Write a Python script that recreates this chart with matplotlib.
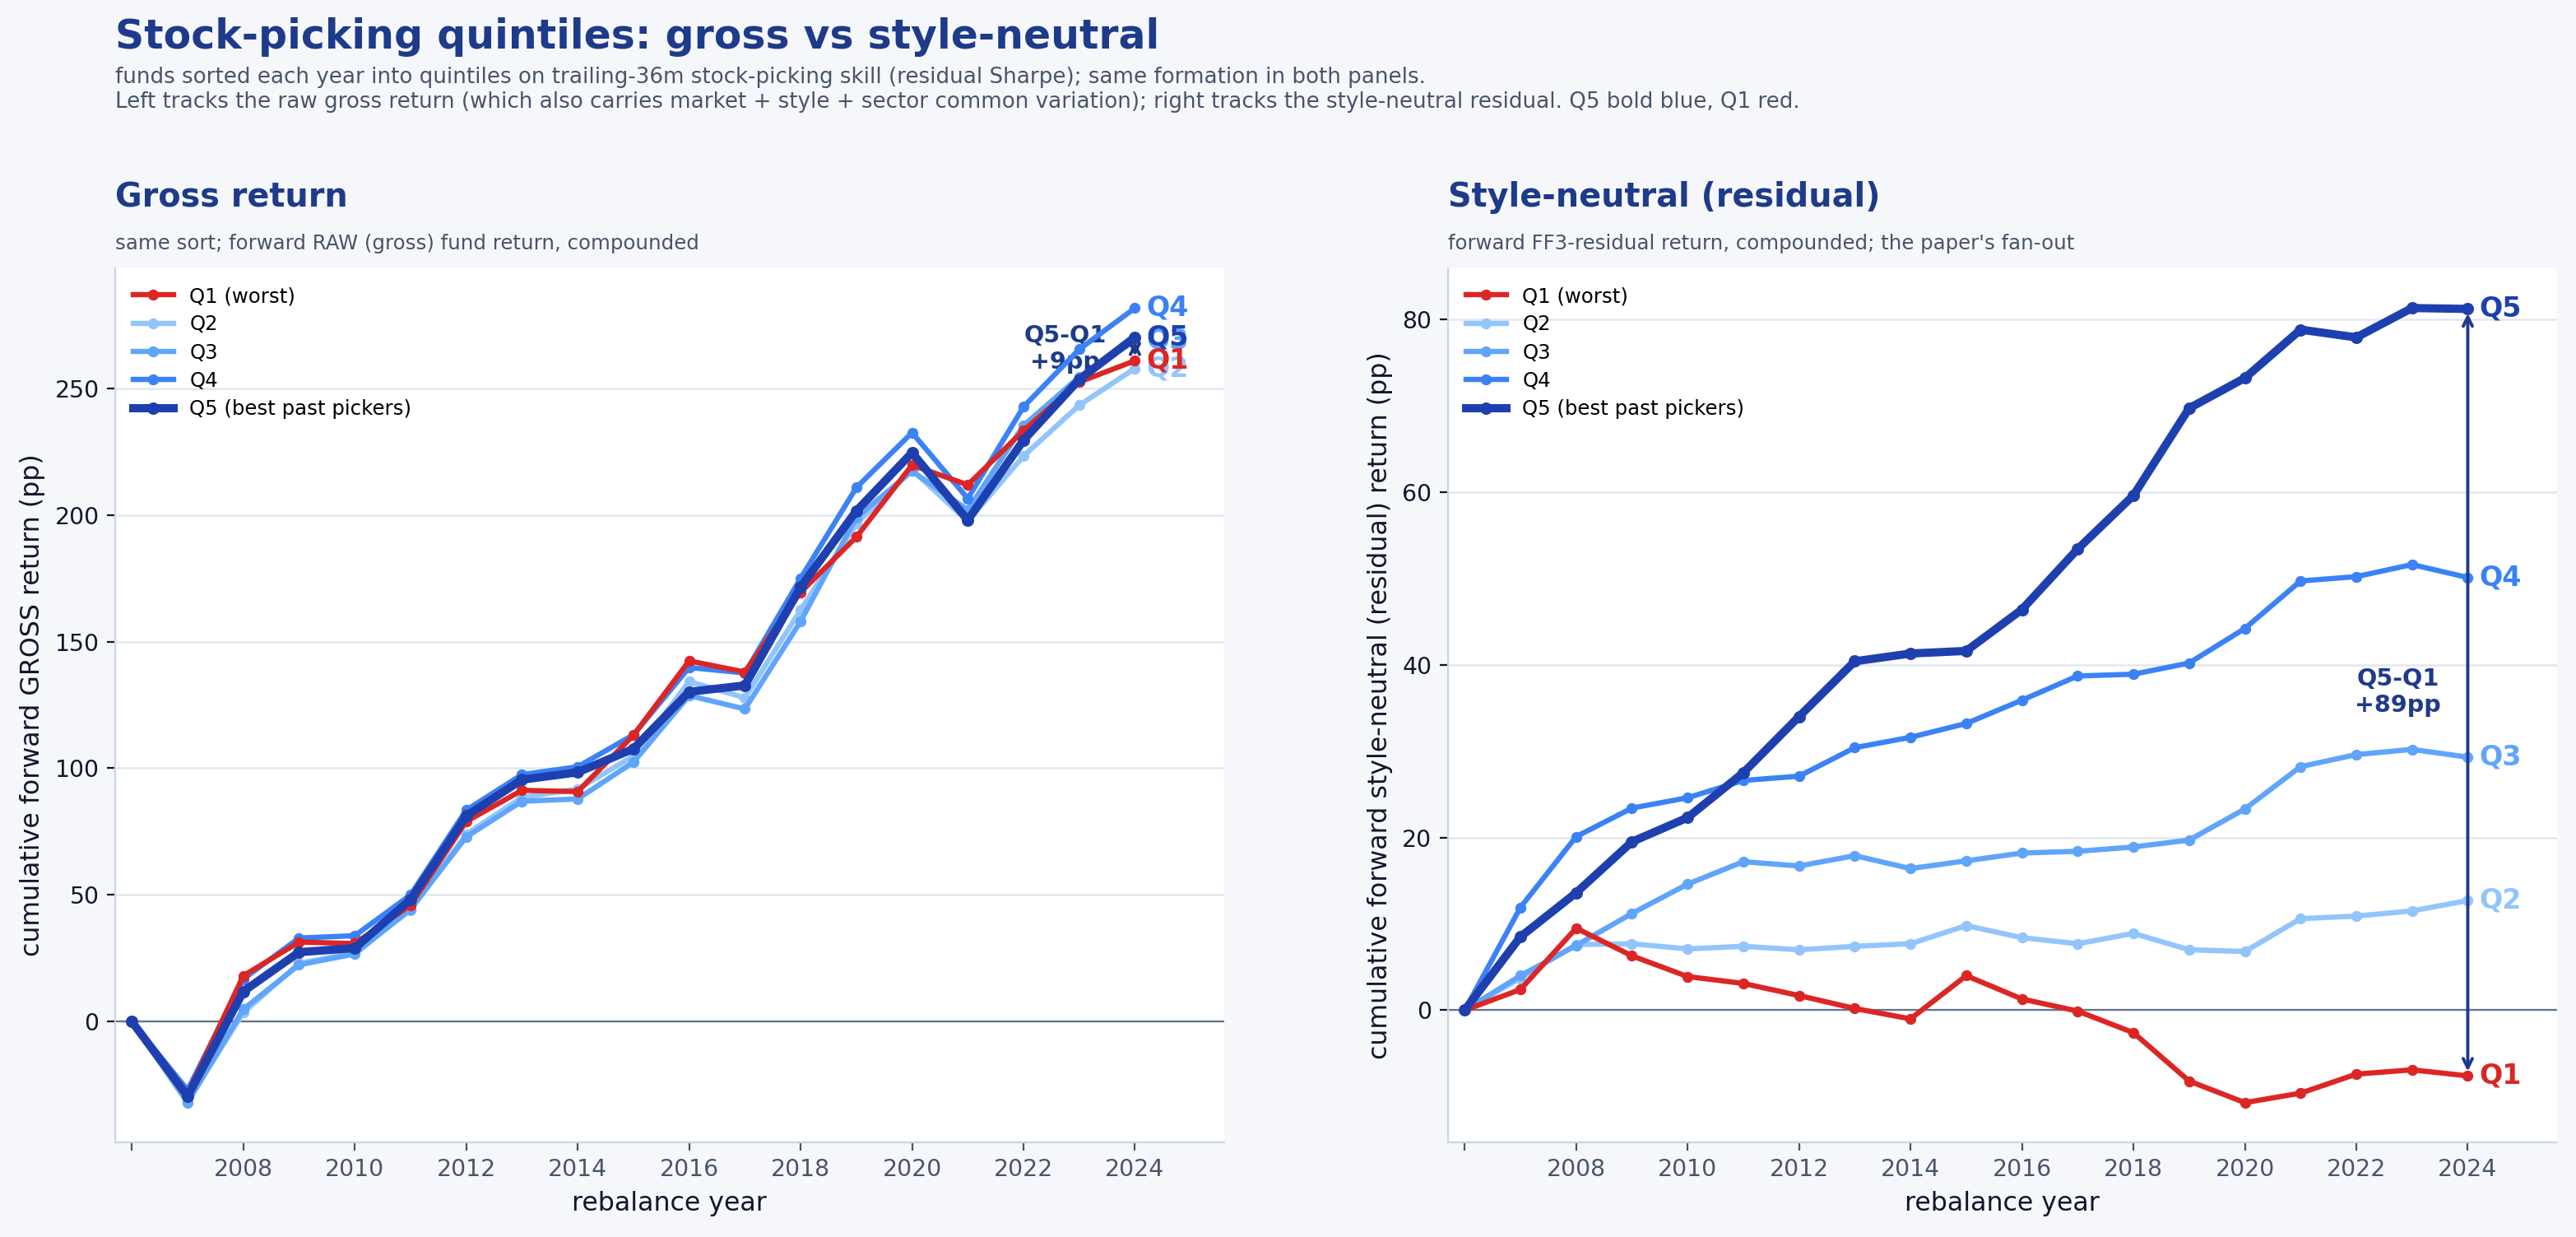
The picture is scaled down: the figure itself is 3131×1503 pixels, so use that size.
import numpy as np
import matplotlib
matplotlib.use("Agg")
import matplotlib.pyplot as plt

# rebalance years
years = list(range(2006, 2025))

# gross (raw) cumulative forward return, pp
gross_q1 = [0, -28.5, 18.1, 31.4, 30.8, 46.0, 79.0, 91.3, 90.8, 113.0, 142.4, 138.0, 169.5, 191.3, 219.7, 211.9, 233.3, 252.5, 260.9]
gross_q2 = [0, -31.5, 3.5, 23.0, 27.2, 44.0, 74.0, 88.5, 91.8, 104.8, 134.3, 127.8, 162.5, 196.5, 217.8, 197.5, 223.3, 243.3, 257.9]
gross_q3 = [0, -32.0, 4.9, 22.4, 26.7, 44.4, 72.9, 87.0, 87.9, 102.4, 128.7, 123.4, 158.0, 199.0, 217.3, 202.0, 235.3, 254.5, 268.8]
gross_q4 = [0, -27.0, 16.8, 33.0, 33.9, 50.0, 83.5, 97.5, 100.6, 113.2, 139.8, 137.6, 175.0, 210.8, 232.5, 206.5, 242.7, 265.4, 281.7]
gross_q5 = [0, -29.5, 11.9, 27.4, 29.0, 48.2, 81.2, 95.5, 98.4, 107.7, 130.2, 132.7, 171.5, 201.6, 224.6, 198.0, 229.5, 253.5, 270.2]

# style-neutral (FF3 residual) cumulative forward return, pp
resid_q1 = [0, 2.4, 9.5, 6.3, 3.9, 3.1, 1.7, 0.2, -1.0, 4.0, 1.3, -0.1, -2.6, -8.2, -10.7, -9.6, -7.4, -6.9, -7.6]
resid_q2 = [0, 3.7, 7.6, 7.7, 7.1, 7.4, 7.0, 7.4, 7.7, 9.8, 8.4, 7.7, 8.9, 7.0, 6.8, 10.6, 10.9, 11.5, 12.7]
resid_q3 = [0, 4.0, 7.5, 11.2, 14.6, 17.2, 16.7, 17.9, 16.4, 17.3, 18.2, 18.4, 18.9, 19.7, 23.3, 28.2, 29.6, 30.2, 29.3]
resid_q4 = [0, 11.9, 20.1, 23.4, 24.6, 26.6, 27.1, 30.4, 31.6, 33.2, 35.9, 38.7, 38.9, 40.2, 44.2, 49.7, 50.2, 51.6, 50.1]
resid_q5 = [0, 8.5, 13.6, 19.5, 22.3, 27.5, 34.0, 40.4, 41.3, 41.6, 46.4, 53.4, 59.6, 69.7, 73.2, 78.8, 77.9, 81.3, 81.2]

quintiles = ["Q1", "Q2", "Q3", "Q4", "Q5"]
legend_labels = ["Q1 (worst)", "Q2", "Q3", "Q4", "Q5 (best past pickers)"]
xtick_years = list(range(2006, 2025, 2))
xtick_labels = [""] + [str(y) for y in xtick_years[1:]]

NAVY = "#1e3a8a"
BG = "#f6f7fb"
colors = {"Q1": "#dc2626", "Q2": "#93c5fd", "Q3": "#60a5fa", "Q4": "#3b82f6", "Q5": "#1e40af"}
widths = {"Q1": 2.3, "Q2": 2.3, "Q3": 2.3, "Q4": 2.3, "Q5": 3.6}
zorders = {"Q1": 5, "Q2": 3, "Q3": 3.5, "Q4": 4, "Q5": 6}

plt.rcParams["font.family"] = ["DejaVu Sans"]

fig = plt.figure(figsize=(3131 / 200, 1503 / 200), dpi=200, facecolor=BG)
ax_l = fig.add_axes([0.0447, 0.0765, 0.4305, 0.7066])
ax_r = fig.add_axes([0.5621, 0.0765, 0.4305, 0.7066])

fig.text(0.0447, 0.970, "Stock-picking quintiles: gross vs style-neutral",
         fontsize=17.6, fontweight="bold", color=NAVY, va="center")
fig.text(0.0447, 0.946,
         "funds sorted each year into quintiles on trailing-36m stock-picking skill (residual Sharpe); same formation in both panels.\n"
         "Left tracks the raw gross return (which also carries market + style + sector common variation); right tracks the style-neutral residual. Q5 bold blue, Q1 red.",
         fontsize=9.4, color="#475569", va="top", linespacing=1.2)


def draw_panel(ax, series, title, subtitle, ylabel):
    ax.set_facecolor("white")
    for q, lab in zip(quintiles, legend_labels):
        ax.plot(years, series[q], color=colors[q], lw=widths[q], marker="o",
                ms=3.8 if q != "Q5" else 4.4, label=lab, zorder=zorders[q])
    ax.axhline(0, color="#64748b", lw=0.8, zorder=1.5)
    ax.grid(axis="y", color="#e2e8f0", lw=0.9)
    ax.set_axisbelow(True)
    ax.set_xlim(2005.7, 2025.6)
    ax.set_xticks(xtick_years)
    ax.set_xticklabels(xtick_labels)
    ax.tick_params(axis="x", colors="#475569", labelsize=10.2)
    ax.tick_params(axis="y", colors="#0f172a", labelsize=10.2)
    for s in ("top", "right"):
        ax.spines[s].set_visible(False)
    for s in ("left", "bottom"):
        ax.spines[s].set_color("#cbd5e1")
    ax.set_xlabel("rebalance year", fontsize=11.4, color="#0f172a")
    ax.set_ylabel(ylabel, fontsize=11.4, color="#0f172a")
    ax.legend(loc="upper left", frameon=False, fontsize=8.8, labelspacing=0.42)

    # end labels
    for q in quintiles:
        ax.annotate(q, (years[-1], series[q][-1]), xytext=(5, 0), textcoords="offset points",
                    va="center", ha="left", fontsize=12, fontweight="bold", color=colors[q],
                    zorder=7 if q in ("Q1", "Q5") else 6)

    # Q5-Q1 spread arrow
    top, bot = series["Q5"][-1], series["Q1"][-1]
    ax.annotate("", xy=(years[-1], top), xytext=(years[-1], bot),
                arrowprops=dict(arrowstyle="<->", color=NAVY, lw=1.4, shrinkA=2, shrinkB=2),
                zorder=6)
    ax.text(years[-1] - 1.25, (top + bot) / 2, f"Q5-Q1\n{top - bot:+.0f}pp", ha="center", va="center",
            fontsize=10.3, fontweight="bold", color=NAVY, zorder=2)

    x0 = ax.get_position().x0
    fig.text(x0, 0.840, title, fontsize=14.3, fontweight="bold", color=NAVY, va="center")
    fig.text(x0, 0.803, subtitle, fontsize=8.8, color="#475569", va="center")


draw_panel(ax_l, {"Q1": gross_q1, "Q2": gross_q2, "Q3": gross_q3, "Q4": gross_q4, "Q5": gross_q5},
           "Gross return", "same sort; forward RAW (gross) fund return, compounded",
           "cumulative forward GROSS return (pp)")
draw_panel(ax_r, {"Q1": resid_q1, "Q2": resid_q2, "Q3": resid_q3, "Q4": resid_q4, "Q5": resid_q5},
           "Style-neutral (residual)", "forward FF3-residual return, compounded; the paper's fan-out",
           "cumulative forward style-neutral (residual) return (pp)")

fig.savefig("out.png", dpi=200, facecolor=BG)
